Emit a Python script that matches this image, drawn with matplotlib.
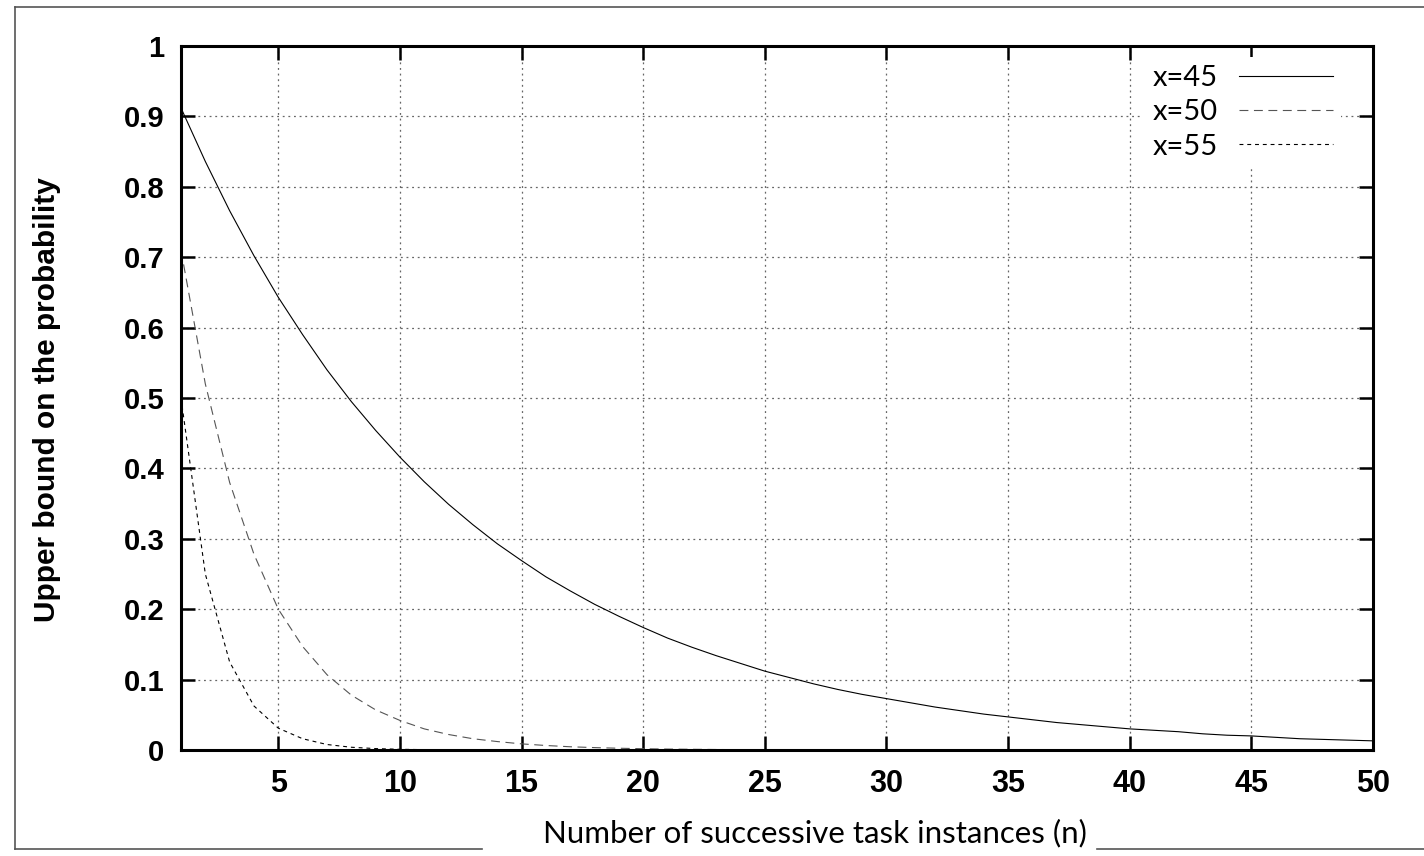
"""
upper bound on the probability vs number of successive task instances
"""

import matplotlib
matplotlib.use("Agg")
import matplotlib.pyplot as plt
from matplotlib.lines import Line2D

n_values = list(range(1, 51))

# values, one per n = 1..50
bound_x45 = [0.912, 0.836, 0.766, 0.702, 0.643, 0.590, 0.540, 0.495, 0.454, 0.416,
             0.381, 0.349, 0.320, 0.293, 0.269, 0.246, 0.226, 0.207, 0.190, 0.174,
             0.159, 0.146, 0.134, 0.123, 0.112, 0.103, 0.094, 0.086, 0.079, 0.073,
             0.067, 0.061, 0.056, 0.051, 0.047, 0.043, 0.039, 0.036, 0.033, 0.030,
             0.028, 0.026, 0.023, 0.021, 0.020, 0.018, 0.016, 0.015, 0.014, 0.013]
bound_x50 = [0.710, 0.520, 0.380, 0.278, 0.200, 0.147, 0.107, 0.078, 0.057, 0.042,
             0.030, 0.022, 0.016, 0.012, 0.0087, 0.0064, 0.0046, 0.0034, 0.0025, 0.0018,
             0.0013, 0.0010, 0.0007, 0.0005, 0.0004, 0.0003, 0.0002, 0.0002, 0.0001, 0.0001,
             0.0001, 0, 0, 0, 0, 0, 0, 0, 0, 0,
             0, 0, 0, 0, 0, 0, 0, 0, 0, 0]
bound_x55 = [0.500, 0.250, 0.125, 0.0625, 0.031, 0.016, 0.0078, 0.0039, 0.0020, 0.0010,
             0.0005, 0.0002, 0.0001, 0, 0, 0, 0, 0, 0, 0,
             0, 0, 0, 0, 0, 0, 0, 0, 0, 0,
             0, 0, 0, 0, 0, 0, 0, 0, 0, 0,
             0, 0, 0, 0, 0, 0, 0, 0, 0, 0]
series_labels = ["x=45", "x=50", "x=55"]

x_ticks = [5, 10, 15, 20, 25, 30, 35, 40, 45, 50]
y_ticks = [0, 0.1, 0.2, 0.3, 0.4, 0.5, 0.6, 0.7, 0.8, 0.9, 1]
y_tick_labels = ["0", "0.1", "0.2", "0.3", "0.4", "0.5", "0.6", "0.7", "0.8", "0.9", "1"]

W, H = 1424, 856
fig = plt.figure(figsize=(W / 100, H / 100), dpi=100)
ax = fig.add_axes([181 / W, 1 - 750 / H, (1373 - 181) / W, (750 - 46) / H])

ax.plot(n_values, bound_x45, color="black", lw=0.8, label=series_labels[0])
ax.plot(n_values, bound_x50, color="#555555", lw=0.8, dashes=(8, 5), label=series_labels[1])
ax.plot(n_values, bound_x55, color="black", lw=0.8, dashes=(3.5, 3.5), label=series_labels[2])

ax.set_xlim(1, 50)
ax.set_ylim(0, 1)
ax.set_xticks(x_ticks)
ax.set_yticks(y_ticks)
ax.set_yticklabels(y_tick_labels)

ax.grid(True, color="#666666", lw=0.9, linestyle=(0, (1.5, 3)))
ax.tick_params(direction="in", length=10, width=1.8, top=True, right=True)
ax.tick_params(axis="x", pad=14, labelsize=22)
ax.tick_params(axis="y", pad=12, labelsize=21)
for lab in ax.get_xticklabels() + ax.get_yticklabels():
    lab.set_fontfamily("Liberation Sans")
    lab.set_fontweight("bold")
for sp in ax.spines.values():
    sp.set_linewidth(2.2)

leg = ax.legend(loc="upper right", bbox_to_anchor=(1356 / W, 1 - 42 / H),
                bbox_transform=fig.transFigure, markerfirst=False, frameon=True,
                prop={"family": "Lato", "size": 21}, handlelength=3.2,
                handletextpad=0.75, labelspacing=0.28, borderpad=0.3,
                fancybox=False)
leg.get_frame().set_edgecolor("none")
leg.get_frame().set_facecolor("white")
leg.get_frame().set_alpha(1)

fig.text(47 / W, 1 - 400 / H, "Upper bound on the probability", rotation=90,
         ha="center", va="center", fontsize=21.5, fontweight="bold",
         family="Liberation Sans")
fig.text(815 / W, 1 - 833 / H, "Number of successive task instances (n)",
         ha="center", va="center", fontsize=22.5, family="Lato")

# thin outer frame, broken by the x label
frame_kw = dict(color="#555555", lw=1.2, transform=fig.transFigure)
fig.add_artist(Line2D([15 / W, 1], [1 - 7 / H, 1 - 7 / H], **frame_kw))
fig.add_artist(Line2D([15 / W, 15 / W], [1 - 7 / H, 1 - 849 / H], **frame_kw))
fig.add_artist(Line2D([15 / W, 482 / W], [1 - 849 / H, 1 - 849 / H], **frame_kw))
fig.add_artist(Line2D([1097 / W, 1], [1 - 849 / H, 1 - 849 / H], **frame_kw))

fig.savefig("out.png", dpi=100)
